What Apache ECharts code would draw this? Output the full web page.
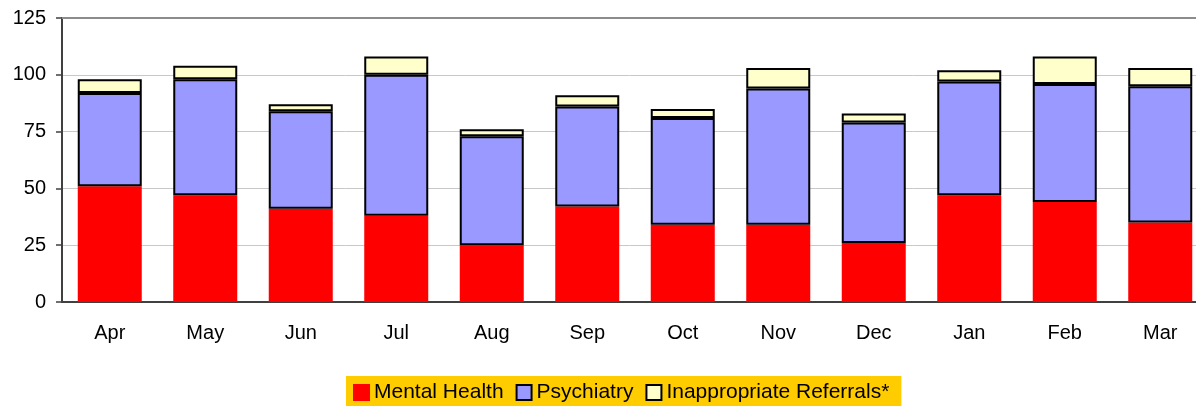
<!DOCTYPE html>
<html>
<head>
<meta charset="utf-8">
<script src="https://cdn.jsdelivr.net/npm/echarts@6/dist/echarts.min.js"></script>
<style>
  html, body { margin: 0; padding: 0; background: #fff; }
  #chart { width: 1196px; height: 406px; }
</style>
</head>
<body>
<div id="chart"></div>
<script>
// Monthly referrals, stacked by type
const months = ['Apr', 'May', 'Jun', 'Jul', 'Aug', 'Sep', 'Oct', 'Nov', 'Dec', 'Jan', 'Feb', 'Mar'];
const mentalHealth = [51, 47, 41, 38, 25, 42, 34, 34, 26, 47, 44, 35];
const psychiatry = [41, 51, 43, 62, 48, 44, 47, 60, 53, 50, 52, 60];
const inappropriate = [6, 6, 3, 8, 3, 5, 4, 9, 4, 5, 12, 8];
const yTicks = [0, 25, 50, 75, 100, 125];

const font = 'Liberation Sans, Arial, sans-serif';
const chart = echarts.init(document.getElementById('chart'));

chart.setOption({
  animation: false,
  textStyle: { fontFamily: font },
  // plot area runs a little past the right edge of the canvas
  grid: { left: 62, top: 18, width: 1146, height: 284, outerBoundsMode: 'none' },
  legend: {
    left: 346,
    top: 376,
    padding: [6, 12, 10, 7],
    backgroundColor: '#FFCC00',
    itemWidth: 15,
    itemHeight: 15,
    itemGap: 12,
    icon: 'rect',
    itemStyle: { borderWidth: 2 },
    textStyle: { fontFamily: font, fontSize: 21, color: '#000' },
    data: ['Mental Health', 'Psychiatry', 'Inappropriate Referrals*']
  },
  xAxis: [{
    type: 'category',
    data: months,
    axisLine: { lineStyle: { color: '#404040', width: 2 } },
    axisTick: { length: 7, lineStyle: { color: '#404040', width: 1.5 } },
    axisLabel: { color: '#000', fontSize: 20, margin: 21, fontFamily: font }
  }, {
    type: 'category',
    position: 'top',
    data: months,
    axisLine: { lineStyle: { color: '#8c8c8c', width: 2 } },
    axisTick: { show: false },
    axisLabel: { show: false }
  }],
  yAxis: {
    type: 'value',
    min: yTicks[0],
    max: yTicks[yTicks.length - 1],
    interval: 25,
    axisLine: { show: true, lineStyle: { color: '#404040', width: 2 } },
    axisTick: { show: true, length: 6, lineStyle: { color: '#404040', width: 1.5 } },
    axisLabel: { color: '#000', fontSize: 20, margin: 16, fontFamily: font },
    splitLine: { lineStyle: { color: '#c8c8c8', width: 1 } }
  },
  series: [{
    name: 'Mental Health',
    type: 'bar',
    stack: 'total',
    barWidth: 64,
    data: mentalHealth,
    itemStyle: { color: '#FF0000', borderColor: '#FF0000', borderWidth: 2 }
  }, {
    name: 'Psychiatry',
    type: 'bar',
    stack: 'total',
    data: psychiatry,
    itemStyle: { color: '#9999FF', borderColor: '#000', borderWidth: 2 }
  }, {
    name: 'Inappropriate Referrals*',
    type: 'bar',
    stack: 'total',
    data: inappropriate,
    itemStyle: { color: '#FFFFCC', borderColor: '#000', borderWidth: 2 }
  }]
});
</script>
</body>
</html>
